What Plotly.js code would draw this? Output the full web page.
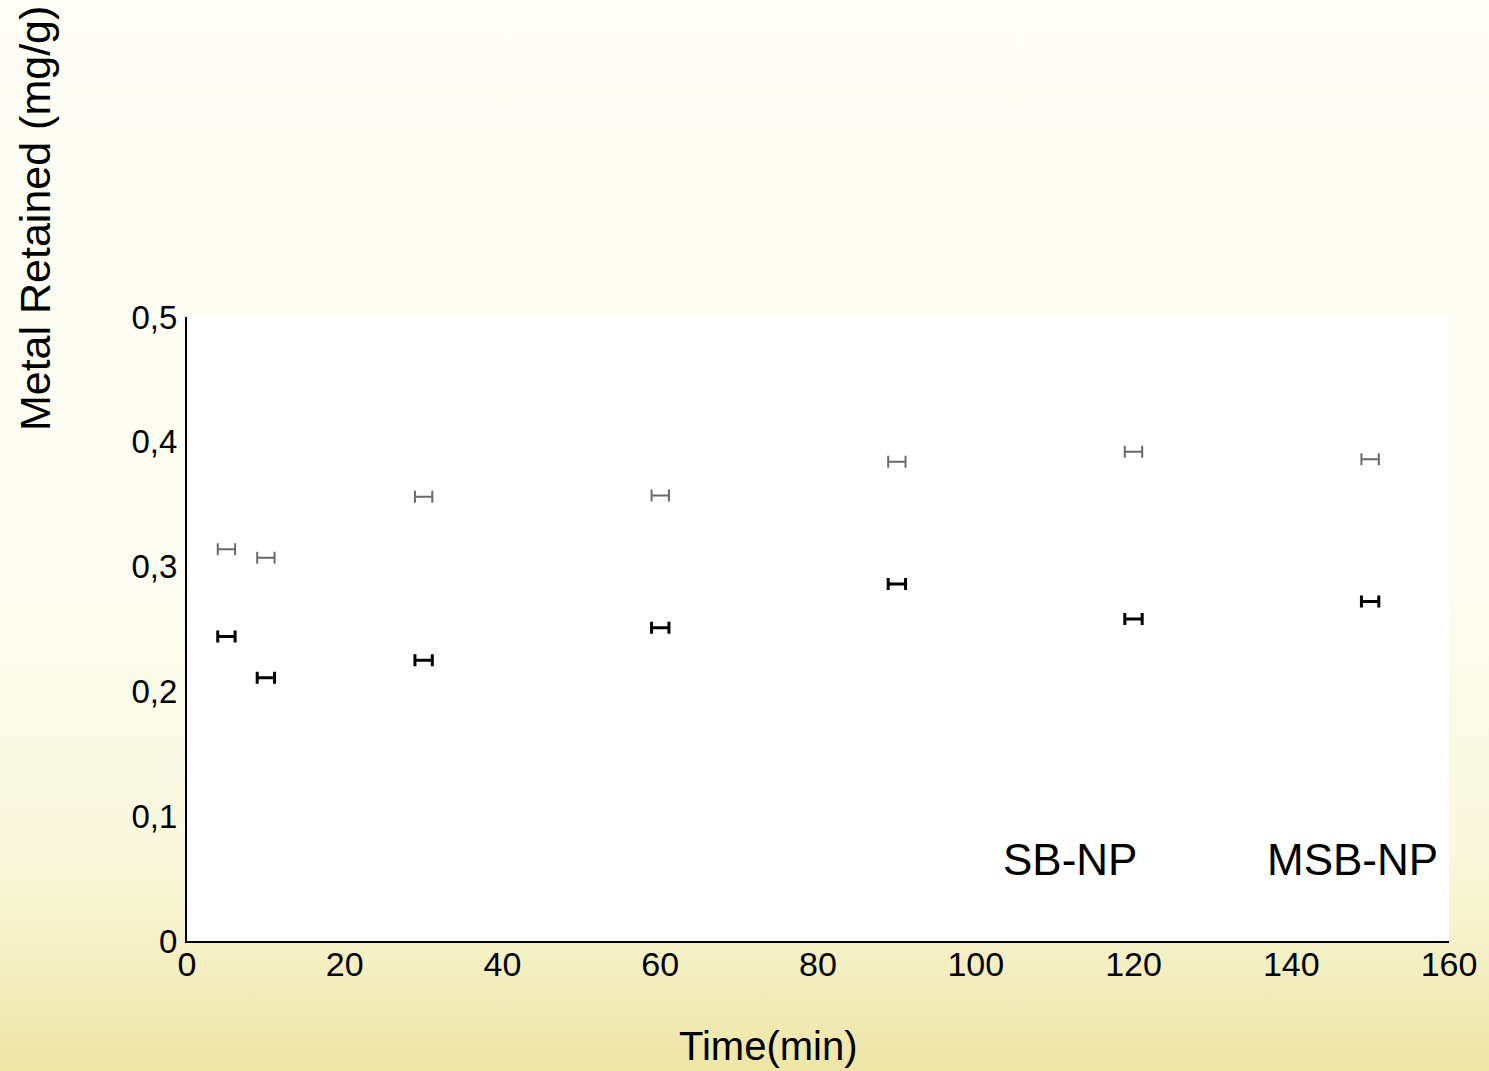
<!DOCTYPE html>
<html>
<head>
<meta charset="utf-8">
<script src="https://cdn.plot.ly/plotly-3.0.1.min.js"></script>
<style>
  html, body { margin: 0; padding: 0; width: 1489px; height: 1071px; overflow: hidden; }
  body { background: linear-gradient(to bottom, #fefef6 0%, #fdfdf1 55%, #f9f7dc 80%, #f3edbc 92%, #eee5a6 100%); }
  #chart { width: 1489px; height: 1071px; }
</style>
</head>
<body>
<div id="chart"></div>
<script>
// Time (min)
var timeMin = [5, 10, 30, 60, 90, 120, 150];
// Upper (gray) series
var grayValues = [0.314, 0.307, 0.356, 0.357, 0.384, 0.392, 0.386];
// Lower (black) series
var blackValues = [0.244, 0.211, 0.225, 0.251, 0.286, 0.258, 0.272];
// horizontal error (min)
var xError = 1.1;

var xTickVals = [0, 20, 40, 60, 80, 100, 120, 140, 160];
var yTickVals = [0, 0.1, 0.2, 0.3, 0.4, 0.5];
var yTickText = ['0', '0,1', '0,2', '0,3', '0,4', '0,5'];
var seriesLabels = ['SB-NP', 'MSB-NP'];
var xTitle = 'Time(min)';
var yTitle = 'Metal Retained (mg/g)';

var FONT = 'Liberation Sans, Arial, sans-serif';

var traces = [
  {
    x: timeMin, y: grayValues, type: 'scatter', mode: 'markers',
    marker: { size: 2, opacity: 0, color: '#666' },
    error_x: { type: 'constant', value: xError, color: '#6a6a6a', thickness: 2, width: 6 },
    hoverinfo: 'skip', showlegend: false
  },
  {
    x: timeMin, y: blackValues, type: 'scatter', mode: 'markers',
    marker: { size: 2, opacity: 0, color: '#000' },
    error_x: { type: 'constant', value: xError, color: '#000000', thickness: 3, width: 6 },
    hoverinfo: 'skip', showlegend: false
  }
];

var layout = {
  width: 1489, height: 1071,
  margin: { l: 187, r: 40, t: 317, b: 130, pad: 0 },
  paper_bgcolor: 'rgba(0,0,0,0)',
  plot_bgcolor: '#ffffff',
  font: { family: FONT, color: '#000' },
  showlegend: false,
  hovermode: false,
  xaxis: {
    range: [0, 160], tickvals: xTickVals, showgrid: false, zeroline: false,
    showline: true, linecolor: '#000', linewidth: 2, ticks: '',
    tickfont: { family: FONT, size: 34, color: '#000' }, ticklabelstandoff: -8
  },
  yaxis: {
    range: [0, 0.5], tickvals: yTickVals, ticktext: yTickText, showgrid: false, zeroline: false,
    showline: true, linecolor: '#000', linewidth: 2, ticks: '',
    tickfont: { family: FONT, size: 33, color: '#000' }, ticklabelstandoff: 1
  },
  annotations: [
    { text: seriesLabels[0], xref: 'x', yref: 'y', x: 112, y: 0.065, showarrow: false,
      xanchor: 'center', yanchor: 'middle', font: { family: FONT, size: 44, color: '#000' } },
    { text: seriesLabels[1], xref: 'x', yref: 'y', x: 147.8, y: 0.065, showarrow: false,
      xanchor: 'center', yanchor: 'middle', font: { family: FONT, size: 44, color: '#000' } },
    { text: xTitle, xref: 'paper', yref: 'paper', x: 0.4604, y: -0.168, showarrow: false,
      xanchor: 'center', yanchor: 'middle', font: { family: FONT, size: 40, color: '#000' } },
    { text: yTitle, xref: 'paper', yref: 'paper', x: -0.1204, y: 1.157, showarrow: false,
      textangle: -90, xanchor: 'center', yanchor: 'middle', font: { family: FONT, size: 43, color: '#000' } }
  ]
};

Plotly.newPlot('chart', traces, layout, { displayModeBar: false, staticPlot: true });
</script>
</body>
</html>
